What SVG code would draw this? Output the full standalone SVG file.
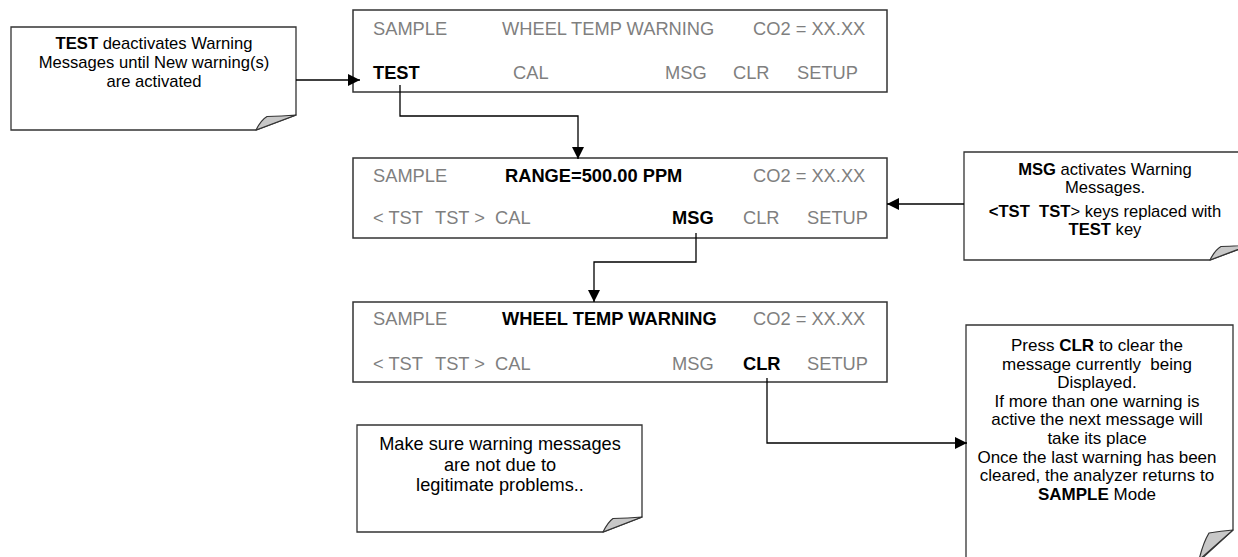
<svg xmlns="http://www.w3.org/2000/svg" width="1238" height="557" viewBox="0 0 1238 557">
<style>
  text { font-family: "Liberation Sans", Arial, sans-serif; }
  .d { font-size: 18.3px; fill: #7f7f7f; }
  .db { font-size: 18.3px; fill: #000; font-weight: bold; }
  .n { font-size: 16.6px; fill: #000; text-anchor: middle; }
  .n2 { font-size: 17px; fill: #000; text-anchor: middle; }
  .n3 { font-size: 18.2px; fill: #000; text-anchor: middle; }
  .b { font-weight: bold; }
  .box { fill: #fff; stroke: #333; stroke-width: 1.5; }
  .note { fill: #fff; stroke: #333; stroke-width: 1.3; }
  .fold { fill: #c8c8c8; stroke: #333; stroke-width: 1.2; stroke-linejoin: round; }
  .c { fill: none; stroke: #000; stroke-width: 1.3; }
</style>
<defs>
  <marker id="ah" markerUnits="userSpaceOnUse" markerWidth="13" markerHeight="13" refX="12" refY="6" orient="auto">
    <path d="M0,0 L12,6 L0,12 Z" fill="#000"/>
  </marker>
</defs>

<g id="display1">
  <rect class="box" x="353" y="10" width="534" height="82"/>
  <text class="d" x="373" y="35">SAMPLE</text>
  <text class="d" x="502" y="35">WHEEL TEMP WARNING</text>
  <text class="d" x="753" y="35">CO2 = XX.XX</text>
  <text class="db" x="373" y="79">TEST</text>
  <text class="d" x="513" y="79">CAL</text>
  <text class="d" x="665" y="79">MSG</text>
  <text class="d" x="733" y="79">CLR</text>
  <text class="d" x="797" y="79">SETUP</text>
</g>

<g id="display2">
  <rect class="box" x="353" y="158" width="534" height="80"/>
  <text class="d" x="373" y="182">SAMPLE</text>
  <text class="db" x="505" y="182">RANGE=500.00 PPM</text>
  <text class="d" x="753" y="182">CO2 = XX.XX</text>
  <text class="d" x="373" y="224">&lt; TST</text>
  <text class="d" x="435" y="224">TST &gt;</text>
  <text class="d" x="495" y="224">CAL</text>
  <text class="db" x="672" y="224">MSG</text>
  <text class="d" x="743" y="224">CLR</text>
  <text class="d" x="807" y="224">SETUP</text>
</g>

<g id="display3">
  <rect class="box" x="353" y="302" width="534" height="80"/>
  <text class="d" x="373" y="325">SAMPLE</text>
  <text class="db" x="502" y="325">WHEEL TEMP WARNING</text>
  <text class="d" x="753" y="325">CO2 = XX.XX</text>
  <text class="d" x="373" y="370">&lt; TST</text>
  <text class="d" x="435" y="370">TST &gt;</text>
  <text class="d" x="495" y="370">CAL</text>
  <text class="d" x="672" y="370">MSG</text>
  <text class="db" x="743" y="370">CLR</text>
  <text class="d" x="807" y="370">SETUP</text>
</g>

<g id="note-test">
  <path class="note" d="M11,27 H296 V115 L256,130 H11 Z"/>
  <path class="fold" d="M256,130 Q261,120 267,116.5 Q282,116 296,115 Z"/>
  <text class="n" x="154" y="49"><tspan class="b">TEST</tspan> deactivates Warning</text>
  <text class="n" x="154" y="68">Messages until New warning(s)</text>
  <text class="n" x="154" y="87">are activated</text>
</g>

<g id="note-msg">
  <path class="note" d="M964,152 H1250 V245 L1210,260 H964 Z"/>
  <path class="fold" d="M1210,260 Q1215,250 1221,246.5 Q1236,246 1250,245 Z"/>
  <text class="n" x="1105" y="175"><tspan class="b">MSG</tspan> activates Warning</text>
  <text class="n" x="1105" y="193">Messages.</text>
  <text class="n" x="1105" y="217" xml:space="preserve"><tspan class="b">&lt;TST  TST</tspan>&gt; keys replaced with</text>
  <text class="n" x="1105" y="235"><tspan class="b">TEST</tspan> key</text>
</g>

<g id="note-clr">
  <path class="note" d="M966,325 H1233 V530 L1198,562 H966 Z"/>
  <path class="fold" d="M1199,560 Q1203,543 1209,533 Q1221,531 1233,530 Z"/>
  <text class="n2" x="1097" y="351">Press <tspan class="b">CLR</tspan> to clear the</text>
  <text class="n2" x="1097" y="369.6" xml:space="preserve">message currently  being</text>
  <text class="n2" x="1097" y="388.2">Displayed.</text>
  <text class="n2" x="1097" y="406.8">If more than one warning is</text>
  <text class="n2" x="1097" y="425.4">active the next message will</text>
  <text class="n2" x="1097" y="444">take its place</text>
  <text class="n2" x="1097" y="462.6">Once the last warning has been</text>
  <text class="n2" x="1097" y="481.2">cleared, the analyzer returns to</text>
  <text class="n2" x="1097" y="499.8"><tspan class="b">SAMPLE</tspan> Mode</text>
</g>

<g id="note-check">
  <path class="note" d="M357,425 H642 V517 L603,532 H357 Z"/>
  <path class="fold" d="M603,532 Q608,522 613,518.5 Q628,518 642,517 Z"/>
  <text class="n3" x="500" y="450">Make sure warning messages</text>
  <text class="n3" x="500" y="470.5">are not due to</text>
  <text class="n3" x="500" y="491">legitimate problems..</text>
</g>

<g id="connectors">
  <path class="c" d="M296,80 H360" marker-end="url(#ah)"/>
  <path class="c" d="M400,85 V116 H578 V159" marker-end="url(#ah)"/>
  <path class="c" d="M964,204 H887" marker-end="url(#ah)"/>
  <path class="c" d="M696,233 V262 H594 V302" marker-end="url(#ah)"/>
  <path class="c" d="M767,378 V443 H967" marker-end="url(#ah)"/>
</g>
</svg>
